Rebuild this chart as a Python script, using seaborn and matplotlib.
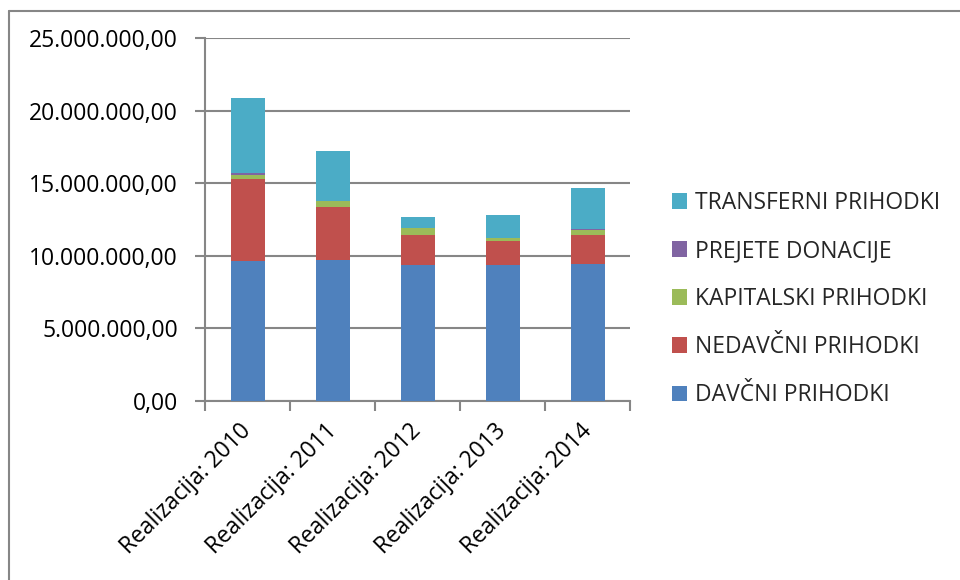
import matplotlib
matplotlib.use("Agg")
import matplotlib.pyplot as plt
import matplotlib.ticker as mticker
import matplotlib.transforms as mtransforms
from matplotlib.patches import Patch
from matplotlib.lines import Line2D
import numpy as np
import pandas as pd
import seaborn as sns

categories = ["Realizacija: 2010", "Realizacija: 2011", "Realizacija: 2012",
              "Realizacija: 2013", "Realizacija: 2014"]
davcni = [9.65e6, 9.72e6, 9.38e6, 9.35e6, 9.45e6]
nedavcni = [5.63e6, 3.67e6, 2.07e6, 1.66e6, 1.98e6]
kapitalski = [0.30e6, 0.39e6, 0.46e6, 0.21e6, 0.37e6]
donacije = [0.11e6, 0.02e6, 0.03e6, 0.02e6, 0.03e6]
transferni = [5.16e6, 3.43e6, 0.76e6, 1.54e6, 2.83e6]

series_names = ["DAVČNI PRIHODKI", "NEDAVČNI PRIHODKI", "KAPITALSKI PRIHODKI",
                "PREJETE DONACIJE", "TRANSFERNI PRIHODKI"]
series_vals = [davcni, nedavcni, kapitalski, donacije, transferni]
colors = ["#4F81BD", "#C0504D", "#9BBB59", "#8064A2", "#4BACC6"]

sns.set_theme(style="white")
plt.rcParams["font.family"] = ["Open Sans", "DejaVu Sans"]

FS = 16.5
fig = plt.figure(figsize=(9.6, 5.8), dpi=100)
ax = fig.add_axes([205/960, 1 - 401/580, (630 - 205)/960, (401 - 38)/580])

cum = np.cumsum(np.array(series_vals), axis=0)
for i in range(len(series_names) - 1, -1, -1):
    df = pd.DataFrame({"cat": categories, "val": cum[i]})
    sns.barplot(data=df, x="cat", y="val", color=colors[i], saturation=1,
                width=0.4, ax=ax, linewidth=0, zorder=3)

grid_c = "#868686"
ax.set_ylim(0, 25e6)
ax.set_xlim(-0.5, 4.5)
ax.set_yticks(np.arange(0, 25e6 + 1, 5e6))
ax.yaxis.set_major_formatter(mticker.FuncFormatter(
    lambda v, p: f"{v:,.2f}".replace(",", "X").replace(".", ",").replace("X", ".")))
ax.grid(axis="y", color=grid_c, linewidth=1.5, zorder=0)
ax.set_axisbelow(True)
for s in ["top", "right"]:
    ax.spines[s].set_visible(False)
for s in ["left", "bottom"]:
    ax.spines[s].set_color(grid_c)
    ax.spines[s].set_linewidth(1.5)
ax.set_xlabel("")
ax.set_ylabel("")
ax.tick_params(axis="y", which="major", left=True, length=7, width=1.5, color=grid_c,
               labelsize=FS, pad=12.5, labelcolor="black")
ax.tick_params(axis="x", which="major", length=0, labelsize=FS, pad=13, labelcolor="black")
ax.set_xticks(np.arange(-0.5, 4.6, 1.0), minor=True)
ax.tick_params(axis="x", which="minor", bottom=True, length=7, width=1.5, color=grid_c)
offset = mtransforms.ScaledTranslation(-8/100, 0, fig.dpi_scale_trans)
for lbl in ax.get_xticklabels():
    lbl.set_rotation(45)
    lbl.set_ha("right")
    lbl.set_va("top")
    lbl.set_rotation_mode("anchor")
    lbl.set_transform(lbl.get_transform() + offset)

handles = [Patch(facecolor=colors[i], edgecolor="none") for i in range(4, -1, -1)]
labels = [series_names[i] for i in range(4, -1, -1)]
leg = fig.legend(handles, labels, loc="upper left", bbox_to_anchor=(672/960, 1 - 191/580),
                 frameon=False, fontsize=FS, handlelength=0.65, handleheight=0.65,
                 handletextpad=0.35, labelspacing=1.05, borderaxespad=0, borderpad=0)

fig.add_artist(Line2D([8.5/960, 8.5/960], [0, 1 - 10.5/580], transform=fig.transFigure,
                      color=grid_c, linewidth=1.5))
fig.add_artist(Line2D([8.5/960, 1], [1 - 10.5/580, 1 - 10.5/580], transform=fig.transFigure,
                      color=grid_c, linewidth=1.5))

fig.savefig("out.png", dpi=100)
